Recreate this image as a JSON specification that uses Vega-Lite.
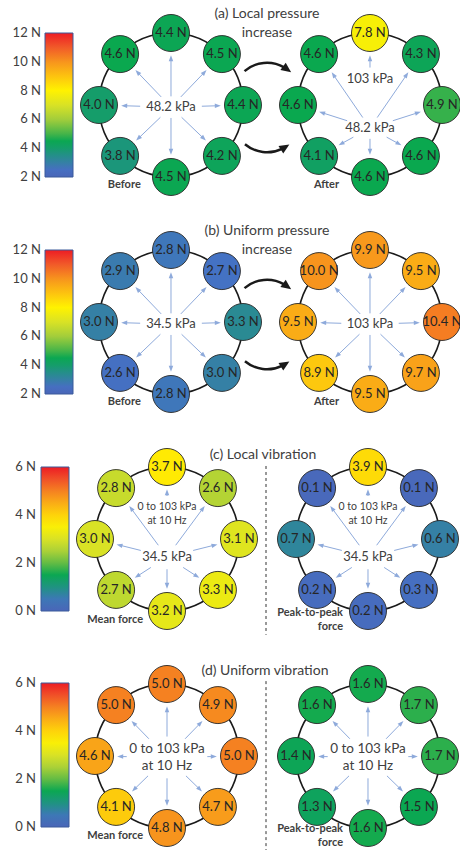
{
"$schema":"https://vega.github.io/schema/vega-lite/v6.json",
"background":"white","padding":0,
"config":{"view":{"stroke":null},"axis":{"disable":true},"font":"Lato"},
"datasets":{"sensors":[
{"panel":"a","side":"L","angle":90,"value":4.4},{"panel":"a","side":"L","angle":45,"value":4.5},{"panel":"a","side":"L","angle":0,"value":4.4},{"panel":"a","side":"L","angle":315,"value":4.2},{"panel":"a","side":"L","angle":270,"value":4.5},{"panel":"a","side":"L","angle":225,"value":3.8},{"panel":"a","side":"L","angle":180,"value":4.0},{"panel":"a","side":"L","angle":135,"value":4.6},
{"panel":"a","side":"R","angle":90,"value":7.8},{"panel":"a","side":"R","angle":45,"value":4.3},{"panel":"a","side":"R","angle":0,"value":4.9},{"panel":"a","side":"R","angle":315,"value":4.6},{"panel":"a","side":"R","angle":270,"value":4.6},{"panel":"a","side":"R","angle":225,"value":4.1},{"panel":"a","side":"R","angle":180,"value":4.6},{"panel":"a","side":"R","angle":135,"value":4.6},
{"panel":"b","side":"L","angle":90,"value":2.8},{"panel":"b","side":"L","angle":45,"value":2.7},{"panel":"b","side":"L","angle":0,"value":3.3},{"panel":"b","side":"L","angle":315,"value":3.0},{"panel":"b","side":"L","angle":270,"value":2.8},{"panel":"b","side":"L","angle":225,"value":2.6},{"panel":"b","side":"L","angle":180,"value":3.0},{"panel":"b","side":"L","angle":135,"value":2.9},
{"panel":"b","side":"R","angle":90,"value":9.9},{"panel":"b","side":"R","angle":45,"value":9.5},{"panel":"b","side":"R","angle":0,"value":10.4},{"panel":"b","side":"R","angle":315,"value":9.7},{"panel":"b","side":"R","angle":270,"value":9.5},{"panel":"b","side":"R","angle":225,"value":8.9},{"panel":"b","side":"R","angle":180,"value":9.5},{"panel":"b","side":"R","angle":135,"value":10.0},
{"panel":"c","side":"L","angle":90,"value":3.7},{"panel":"c","side":"L","angle":45,"value":2.6},{"panel":"c","side":"L","angle":0,"value":3.1},{"panel":"c","side":"L","angle":315,"value":3.3},{"panel":"c","side":"L","angle":270,"value":3.2},{"panel":"c","side":"L","angle":225,"value":2.7},{"panel":"c","side":"L","angle":180,"value":3.0},{"panel":"c","side":"L","angle":135,"value":2.8},
{"panel":"c","side":"R","angle":90,"value":3.9},{"panel":"c","side":"R","angle":45,"value":0.1},{"panel":"c","side":"R","angle":0,"value":0.6},{"panel":"c","side":"R","angle":315,"value":0.3},{"panel":"c","side":"R","angle":270,"value":0.2},{"panel":"c","side":"R","angle":225,"value":0.2},{"panel":"c","side":"R","angle":180,"value":0.7},{"panel":"c","side":"R","angle":135,"value":0.1},
{"panel":"d","side":"L","angle":90,"value":5.0},{"panel":"d","side":"L","angle":45,"value":4.9},{"panel":"d","side":"L","angle":0,"value":5.0},{"panel":"d","side":"L","angle":315,"value":4.7},{"panel":"d","side":"L","angle":270,"value":4.8},{"panel":"d","side":"L","angle":225,"value":4.1},{"panel":"d","side":"L","angle":180,"value":4.6},{"panel":"d","side":"L","angle":135,"value":5.0},
{"panel":"d","side":"R","angle":90,"value":1.6},{"panel":"d","side":"R","angle":45,"value":1.7},{"panel":"d","side":"R","angle":0,"value":1.7},{"panel":"d","side":"R","angle":315,"value":1.5},{"panel":"d","side":"R","angle":270,"value":1.6},{"panel":"d","side":"R","angle":225,"value":1.3},{"panel":"d","side":"R","angle":180,"value":1.4},{"panel":"d","side":"R","angle":135,"value":1.6}
]},
"columns":2,"spacing":0,"bounds":"flush",
"resolve":{"scale":{"x":"independent","y":"independent","fill":"independent"},"legend":{"fill":"independent"}},
"concat":[
{"width":271,"height":217,"layer":[
{"data":{"values":[{}]},"mark":{"type":"point","shape":"circle","size":20736,"filled":false,"stroke":"#1a1a1a","strokeWidth":1.6,"opacity":1},"encoding":{"x":{"datum":0,"type":"quantitative","scale":{"domain":[-2.375,1.3889],"nice":false,"zero":false}},"y":{"datum":0,"type":"quantitative","scale":{"domain":[-1.5556,1.4583],"nice":false,"zero":false}}}},
{"data":{"name":"sensors"},"transform":[
{"filter":"datum.panel=='a' && datum.side=='L'"},
{"calculate":"cos(datum.angle*PI/180)","as":"px"},{"calculate":"sin(datum.angle*PI/180)","as":"py"},
{"calculate":"-0.03","as":"oy"},{"calculate":"0.15","as":"bb"},
{"calculate":"sqrt(pow(datum.px,2)+pow(datum.py-datum.oy,2))","as":"len"},
{"calculate":"datum.px/datum.len","as":"ux"},{"calculate":"(datum.py-datum.oy)/datum.len","as":"uy"},
{"calculate":"1/sqrt(pow(datum.ux/0.43,2)+pow(datum.uy/datum.bb,2))","as":"s"},
{"calculate":"datum.ux*datum.s","as":"x1"},{"calculate":"datum.oy+datum.uy*datum.s","as":"y1"},
{"calculate":"datum.px-datum.ux*0.35","as":"hx"},{"calculate":"datum.py-datum.uy*0.35","as":"hy"},
{"calculate":"atan2(datum.ux,datum.uy)*180/PI","as":"hang"},
{"calculate":"format(datum.value,'.1f')+' N'","as":"label"}],
"layer":[
{"mark":{"type":"rule","color":"#8eaadb","strokeWidth":1},"encoding":{"x":{"field":"x1","type":"quantitative"},"y":{"field":"y1","type":"quantitative"},"x2":{"field":"hx"},"y2":{"field":"hy"}}},
{"mark":{"type":"point","shape":"M0,-1L0.75,1L-0.75,1Z","size":36,"filled":true,"color":"#8eaadb","opacity":1,"strokeWidth":0},"encoding":{"x":{"field":"hx","type":"quantitative"},"y":{"field":"hy","type":"quantitative"},"angle":{"field":"hang","type":"quantitative","scale":null}}},
{"mark":{"type":"point","shape":"circle","size":1369,"filled":true,"stroke":"#262626","strokeWidth":0.9,"opacity":1},"encoding":{"x":{"field":"px","type":"quantitative"},"y":{"field":"py","type":"quantitative"},"fill":{"field":"value","type":"quantitative","scale":{"domain":[2,2.7,3,3.3,3.8,4.2,4.6,5,6,7,8,9,10,11,12],"range":["#4a66b8","#4472c4","#3580a5","#2a8a93","#1b967a","#0ea45a","#0aa84f","#45b449","#a2cd3b","#d9e225","#fff200","#fdc30f","#f7941d","#f15a29","#ed1c24"],"interpolate":"rgb"},"legend":{"orient":"none","legendX":45,"legendY":33,"direction":"vertical","gradientLength":144,"gradientThickness":28,"labelExpr":"''","labelOpacity":0,"title":null,"gradientStrokeColor":"#3b5a9a","gradientStrokeWidth":1,"padding":0}}}},
{"mark":{"type":"text","fontSize":13,"color":"#262626","baseline":"middle"},"encoding":{"x":{"field":"px","type":"quantitative"},"y":{"field":"py","type":"quantitative"},"text":{"field":"label"}}}]},
{"data":{"values":[{}]},"mark":{"type":"text","text":["12 N","10 N","8 N","6 N","4 N","2 N"],"lineHeight":28.8,"fontSize":13,"color":"#404040","align":"right","baseline":"middle"},"encoding":{"x":{"datum":-1.806,"type":"quantitative"},"y":{"datum":1.0,"type":"quantitative"}}},
{"data":{"values":[{}]},"mark":{"type":"text","text":"48.2 kPa","fontSize":13,"color":"#404040","baseline":"middle"},"encoding":{"x":{"datum":0,"type":"quantitative"},"y":{"datum":-0.03,"type":"quantitative"}}},
{"data":{"values":[{}]},"mark":{"type":"text","text":"Before","fontSize":11,"fontWeight":"bold","color":"#404040","align":"right","baseline":"middle"},"encoding":{"x":{"datum":-0.42,"type":"quantitative"},"y":{"datum":-1.111,"type":"quantitative"}}},
{"data":{"values":[{}]},"mark":{"type":"text","text":["(a) Local pressure","increase"],"fontSize":14,"lineHeight":19,"color":"#404040","align":"center","baseline":"middle"},"encoding":{"x":{"datum":1.333,"type":"quantitative"},"y":{"datum":1.264,"type":"quantitative"}}},
{"data":{"values":[{}]},"mark":{"type":"arc","theta":-0.7156,"theta2":0.5236,"radius":35.5,"radius2":33,"color":"#1a1a1a"},"encoding":{"x":{"datum":1.333,"type":"quantitative"},"y":{"datum":0.111,"type":"quantitative"}}},
{"data":{"values":[{}]},"mark":{"type":"arc","theta":2.6878,"theta2":3.8397,"radius":35.5,"radius2":33,"color":"#1a1a1a"},"encoding":{"x":{"datum":1.333,"type":"quantitative"},"y":{"datum":-0.1806,"type":"quantitative"}}},
{"data":{"values":[{}]},"mark":{"type":"point","shape":"M0,-1L0.9,1L-0.9,1Z","size":100,"filled":true,"color":"#1a1a1a","opacity":1,"angle":126},"encoding":{"x":{"datum":1.6125,"type":"quantitative"},"y":{"datum":0.496,"type":"quantitative"}}},
{"data":{"values":[{}]},"mark":{"type":"point","shape":"M0,-1L0.9,1L-0.9,1Z","size":100,"filled":true,"color":"#1a1a1a","opacity":1,"angle":58},"encoding":{"x":{"datum":1.585,"type":"quantitative"},"y":{"datum":-0.584,"type":"quantitative"}}}
]},
{"width":199,"height":217,"layer":[
{"data":{"values":[{}]},"mark":{"type":"point","shape":"circle","size":20736,"filled":false,"stroke":"#1a1a1a","strokeWidth":1.6,"opacity":1},"encoding":{"x":{"datum":0,"type":"quantitative","scale":{"domain":[-1.375,1.3889],"nice":false,"zero":false}},"y":{"datum":0,"type":"quantitative","scale":{"domain":[-1.5556,1.4583],"nice":false,"zero":false}}}},
{"data":{"name":"sensors"},"transform":[
{"filter":"datum.panel=='a' && datum.side=='R'"},
{"calculate":"cos(datum.angle*PI/180)","as":"px"},{"calculate":"sin(datum.angle*PI/180)","as":"py"},
{"calculate":"datum.angle==90 ? 0.36 : -0.32","as":"oy"},{"calculate":"datum.angle==90 ? 0.16 : 0.15","as":"bb"},
{"calculate":"sqrt(pow(datum.px,2)+pow(datum.py-datum.oy,2))","as":"len"},
{"calculate":"datum.px/datum.len","as":"ux"},{"calculate":"(datum.py-datum.oy)/datum.len","as":"uy"},
{"calculate":"1/sqrt(pow(datum.ux/0.43,2)+pow(datum.uy/datum.bb,2))","as":"s"},
{"calculate":"datum.ux*datum.s","as":"x1"},{"calculate":"datum.oy+datum.uy*datum.s","as":"y1"},
{"calculate":"datum.px-datum.ux*0.35","as":"hx"},{"calculate":"datum.py-datum.uy*0.35","as":"hy"},
{"calculate":"atan2(datum.ux,datum.uy)*180/PI","as":"hang"},
{"calculate":"format(datum.value,'.1f')+' N'","as":"label"}],
"layer":[
{"mark":{"type":"rule","color":"#8eaadb","strokeWidth":1},"encoding":{"x":{"field":"x1","type":"quantitative"},"y":{"field":"y1","type":"quantitative"},"x2":{"field":"hx"},"y2":{"field":"hy"}}},
{"mark":{"type":"point","shape":"M0,-1L0.75,1L-0.75,1Z","size":36,"filled":true,"color":"#8eaadb","opacity":1,"strokeWidth":0},"encoding":{"x":{"field":"hx","type":"quantitative"},"y":{"field":"hy","type":"quantitative"},"angle":{"field":"hang","type":"quantitative","scale":null}}},
{"mark":{"type":"point","shape":"circle","size":1369,"filled":true,"stroke":"#262626","strokeWidth":0.9,"opacity":1},"encoding":{"x":{"field":"px","type":"quantitative"},"y":{"field":"py","type":"quantitative"},"fill":{"field":"value","type":"quantitative","scale":{"domain":[2,2.7,3,3.3,3.8,4.2,4.6,5,6,7,8,9,10,11,12],"range":["#4a66b8","#4472c4","#3580a5","#2a8a93","#1b967a","#0ea45a","#0aa84f","#45b449","#a2cd3b","#d9e225","#fff200","#fdc30f","#f7941d","#f15a29","#ed1c24"],"interpolate":"rgb"},"legend":null}}},
{"mark":{"type":"text","fontSize":13,"color":"#262626","baseline":"middle"},"encoding":{"x":{"field":"px","type":"quantitative"},"y":{"field":"py","type":"quantitative"},"text":{"field":"label"}}}]},
{"data":{"values":[{}]},"mark":{"type":"text","text":"103 kPa","fontSize":13,"color":"#404040","baseline":"middle"},"encoding":{"x":{"datum":0,"type":"quantitative"},"y":{"datum":0.36,"type":"quantitative"}}},
{"data":{"values":[{}]},"mark":{"type":"text","text":"48.2 kPa","fontSize":13,"color":"#404040","baseline":"middle"},"encoding":{"x":{"datum":0,"type":"quantitative"},"y":{"datum":-0.32,"type":"quantitative"}}},
{"data":{"values":[{}]},"mark":{"type":"text","text":"After","fontSize":11,"fontWeight":"bold","color":"#404040","align":"right","baseline":"middle"},"encoding":{"x":{"datum":-0.43,"type":"quantitative"},"y":{"datum":-1.111,"type":"quantitative"}}}
]},
{"width":271,"height":217,"layer":[
{"data":{"values":[{}]},"mark":{"type":"point","shape":"circle","size":20736,"filled":false,"stroke":"#1a1a1a","strokeWidth":1.6,"opacity":1},"encoding":{"x":{"datum":0,"type":"quantitative","scale":{"domain":[-2.375,1.3889],"nice":false,"zero":false}},"y":{"datum":0,"type":"quantitative","scale":{"domain":[-1.5556,1.4583],"nice":false,"zero":false}}}},
{"data":{"name":"sensors"},"transform":[
{"filter":"datum.panel=='b' && datum.side=='L'"},
{"calculate":"cos(datum.angle*PI/180)","as":"px"},{"calculate":"sin(datum.angle*PI/180)","as":"py"},
{"calculate":"-0.03","as":"oy"},{"calculate":"0.15","as":"bb"},
{"calculate":"sqrt(pow(datum.px,2)+pow(datum.py-datum.oy,2))","as":"len"},
{"calculate":"datum.px/datum.len","as":"ux"},{"calculate":"(datum.py-datum.oy)/datum.len","as":"uy"},
{"calculate":"1/sqrt(pow(datum.ux/0.43,2)+pow(datum.uy/datum.bb,2))","as":"s"},
{"calculate":"datum.ux*datum.s","as":"x1"},{"calculate":"datum.oy+datum.uy*datum.s","as":"y1"},
{"calculate":"datum.px-datum.ux*0.35","as":"hx"},{"calculate":"datum.py-datum.uy*0.35","as":"hy"},
{"calculate":"atan2(datum.ux,datum.uy)*180/PI","as":"hang"},
{"calculate":"format(datum.value,'.1f')+' N'","as":"label"}],
"layer":[
{"mark":{"type":"rule","color":"#8eaadb","strokeWidth":1},"encoding":{"x":{"field":"x1","type":"quantitative"},"y":{"field":"y1","type":"quantitative"},"x2":{"field":"hx"},"y2":{"field":"hy"}}},
{"mark":{"type":"point","shape":"M0,-1L0.75,1L-0.75,1Z","size":36,"filled":true,"color":"#8eaadb","opacity":1,"strokeWidth":0},"encoding":{"x":{"field":"hx","type":"quantitative"},"y":{"field":"hy","type":"quantitative"},"angle":{"field":"hang","type":"quantitative","scale":null}}},
{"mark":{"type":"point","shape":"circle","size":1369,"filled":true,"stroke":"#262626","strokeWidth":0.9,"opacity":1},"encoding":{"x":{"field":"px","type":"quantitative"},"y":{"field":"py","type":"quantitative"},"fill":{"field":"value","type":"quantitative","scale":{"domain":[2,2.7,3,3.3,3.8,4.2,4.6,5,6,7,8,9,10,11,12],"range":["#4a66b8","#4472c4","#3580a5","#2a8a93","#1b967a","#0ea45a","#0aa84f","#45b449","#a2cd3b","#d9e225","#fff200","#fdc30f","#f7941d","#f15a29","#ed1c24"],"interpolate":"rgb"},"legend":{"orient":"none","legendX":45,"legendY":33,"direction":"vertical","gradientLength":144,"gradientThickness":28,"labelExpr":"''","labelOpacity":0,"title":null,"gradientStrokeColor":"#3b5a9a","gradientStrokeWidth":1,"padding":0}}}},
{"mark":{"type":"text","fontSize":13,"color":"#262626","baseline":"middle"},"encoding":{"x":{"field":"px","type":"quantitative"},"y":{"field":"py","type":"quantitative"},"text":{"field":"label"}}}]},
{"data":{"values":[{}]},"mark":{"type":"text","text":["12 N","10 N","8 N","6 N","4 N","2 N"],"lineHeight":28.8,"fontSize":13,"color":"#404040","align":"right","baseline":"middle"},"encoding":{"x":{"datum":-1.806,"type":"quantitative"},"y":{"datum":1.0,"type":"quantitative"}}},
{"data":{"values":[{}]},"mark":{"type":"text","text":"34.5 kPa","fontSize":13,"color":"#404040","baseline":"middle"},"encoding":{"x":{"datum":0,"type":"quantitative"},"y":{"datum":-0.03,"type":"quantitative"}}},
{"data":{"values":[{}]},"mark":{"type":"text","text":"Before","fontSize":11,"fontWeight":"bold","color":"#404040","align":"right","baseline":"middle"},"encoding":{"x":{"datum":-0.42,"type":"quantitative"},"y":{"datum":-1.111,"type":"quantitative"}}},
{"data":{"values":[{}]},"mark":{"type":"text","text":["(b) Uniform pressure","increase"],"fontSize":14,"lineHeight":19,"color":"#404040","align":"center","baseline":"middle"},"encoding":{"x":{"datum":1.333,"type":"quantitative"},"y":{"datum":1.264,"type":"quantitative"}}},
{"data":{"values":[{}]},"mark":{"type":"arc","theta":-0.7156,"theta2":0.5236,"radius":35.5,"radius2":33,"color":"#1a1a1a"},"encoding":{"x":{"datum":1.333,"type":"quantitative"},"y":{"datum":0.111,"type":"quantitative"}}},
{"data":{"values":[{}]},"mark":{"type":"arc","theta":2.6878,"theta2":3.8397,"radius":35.5,"radius2":33,"color":"#1a1a1a"},"encoding":{"x":{"datum":1.333,"type":"quantitative"},"y":{"datum":-0.1806,"type":"quantitative"}}},
{"data":{"values":[{}]},"mark":{"type":"point","shape":"M0,-1L0.9,1L-0.9,1Z","size":100,"filled":true,"color":"#1a1a1a","opacity":1,"angle":126},"encoding":{"x":{"datum":1.6125,"type":"quantitative"},"y":{"datum":0.496,"type":"quantitative"}}},
{"data":{"values":[{}]},"mark":{"type":"point","shape":"M0,-1L0.9,1L-0.9,1Z","size":100,"filled":true,"color":"#1a1a1a","opacity":1,"angle":58},"encoding":{"x":{"datum":1.585,"type":"quantitative"},"y":{"datum":-0.584,"type":"quantitative"}}}
]},
{"width":199,"height":217,"layer":[
{"data":{"values":[{}]},"mark":{"type":"point","shape":"circle","size":20736,"filled":false,"stroke":"#1a1a1a","strokeWidth":1.6,"opacity":1},"encoding":{"x":{"datum":0,"type":"quantitative","scale":{"domain":[-1.375,1.3889],"nice":false,"zero":false}},"y":{"datum":0,"type":"quantitative","scale":{"domain":[-1.5556,1.4583],"nice":false,"zero":false}}}},
{"data":{"name":"sensors"},"transform":[
{"filter":"datum.panel=='b' && datum.side=='R'"},
{"calculate":"cos(datum.angle*PI/180)","as":"px"},{"calculate":"sin(datum.angle*PI/180)","as":"py"},
{"calculate":"-0.03","as":"oy"},{"calculate":"0.15","as":"bb"},
{"calculate":"sqrt(pow(datum.px,2)+pow(datum.py-datum.oy,2))","as":"len"},
{"calculate":"datum.px/datum.len","as":"ux"},{"calculate":"(datum.py-datum.oy)/datum.len","as":"uy"},
{"calculate":"1/sqrt(pow(datum.ux/0.4,2)+pow(datum.uy/datum.bb,2))","as":"s"},
{"calculate":"datum.ux*datum.s","as":"x1"},{"calculate":"datum.oy+datum.uy*datum.s","as":"y1"},
{"calculate":"datum.px-datum.ux*0.35","as":"hx"},{"calculate":"datum.py-datum.uy*0.35","as":"hy"},
{"calculate":"atan2(datum.ux,datum.uy)*180/PI","as":"hang"},
{"calculate":"format(datum.value,'.1f')+' N'","as":"label"}],
"layer":[
{"mark":{"type":"rule","color":"#8eaadb","strokeWidth":1},"encoding":{"x":{"field":"x1","type":"quantitative"},"y":{"field":"y1","type":"quantitative"},"x2":{"field":"hx"},"y2":{"field":"hy"}}},
{"mark":{"type":"point","shape":"M0,-1L0.75,1L-0.75,1Z","size":36,"filled":true,"color":"#8eaadb","opacity":1,"strokeWidth":0},"encoding":{"x":{"field":"hx","type":"quantitative"},"y":{"field":"hy","type":"quantitative"},"angle":{"field":"hang","type":"quantitative","scale":null}}},
{"mark":{"type":"point","shape":"circle","size":1369,"filled":true,"stroke":"#262626","strokeWidth":0.9,"opacity":1},"encoding":{"x":{"field":"px","type":"quantitative"},"y":{"field":"py","type":"quantitative"},"fill":{"field":"value","type":"quantitative","scale":{"domain":[2,2.7,3,3.3,3.8,4.2,4.6,5,6,7,8,9,10,11,12],"range":["#4a66b8","#4472c4","#3580a5","#2a8a93","#1b967a","#0ea45a","#0aa84f","#45b449","#a2cd3b","#d9e225","#fff200","#fdc30f","#f7941d","#f15a29","#ed1c24"],"interpolate":"rgb"},"legend":null}}},
{"mark":{"type":"text","fontSize":13,"color":"#262626","baseline":"middle"},"encoding":{"x":{"field":"px","type":"quantitative"},"y":{"field":"py","type":"quantitative"},"text":{"field":"label"}}}]},
{"data":{"values":[{}]},"mark":{"type":"text","text":"103 kPa","fontSize":13,"color":"#404040","baseline":"middle"},"encoding":{"x":{"datum":0,"type":"quantitative"},"y":{"datum":-0.03,"type":"quantitative"}}},
{"data":{"values":[{}]},"mark":{"type":"text","text":"After","fontSize":11,"fontWeight":"bold","color":"#404040","align":"right","baseline":"middle"},"encoding":{"x":{"datum":-0.43,"type":"quantitative"},"y":{"datum":-1.111,"type":"quantitative"}}}
]},
{"width":271,"height":217,"layer":[
{"data":{"values":[{}]},"mark":{"type":"point","shape":"circle","size":20736,"filled":false,"stroke":"#1a1a1a","strokeWidth":1.6,"opacity":1},"encoding":{"x":{"datum":0,"type":"quantitative","scale":{"domain":[-2.3194,1.4444],"nice":false,"zero":false}},"y":{"datum":0,"type":"quantitative","scale":{"domain":[-1.5556,1.4583],"nice":false,"zero":false}}}},
{"data":{"name":"sensors"},"transform":[
{"filter":"datum.panel=='c' && datum.side=='L'"},
{"calculate":"cos(datum.angle*PI/180)","as":"px"},{"calculate":"sin(datum.angle*PI/180)","as":"py"},
{"calculate":"datum.angle==90 ? 0.347 : -0.25","as":"oy"},{"calculate":"datum.angle==90 ? 0.25 : 0.17","as":"bb"},
{"calculate":"sqrt(pow(datum.px,2)+pow(datum.py-datum.oy,2))","as":"len"},
{"calculate":"datum.px/datum.len","as":"ux"},{"calculate":"(datum.py-datum.oy)/datum.len","as":"uy"},
{"calculate":"1/sqrt(pow(datum.ux/0.43,2)+pow(datum.uy/datum.bb,2))","as":"s"},
{"calculate":"datum.ux*datum.s","as":"x1"},{"calculate":"datum.oy+datum.uy*datum.s","as":"y1"},
{"calculate":"datum.px-datum.ux*0.35","as":"hx"},{"calculate":"datum.py-datum.uy*0.35","as":"hy"},
{"calculate":"atan2(datum.ux,datum.uy)*180/PI","as":"hang"},
{"calculate":"format(datum.value,'.1f')+' N'","as":"label"}],
"layer":[
{"mark":{"type":"rule","color":"#8eaadb","strokeWidth":1},"encoding":{"x":{"field":"x1","type":"quantitative"},"y":{"field":"y1","type":"quantitative"},"x2":{"field":"hx"},"y2":{"field":"hy"}}},
{"mark":{"type":"point","shape":"M0,-1L0.75,1L-0.75,1Z","size":36,"filled":true,"color":"#8eaadb","opacity":1,"strokeWidth":0},"encoding":{"x":{"field":"hx","type":"quantitative"},"y":{"field":"hy","type":"quantitative"},"angle":{"field":"hang","type":"quantitative","scale":null}}},
{"mark":{"type":"point","shape":"circle","size":1369,"filled":true,"stroke":"#262626","strokeWidth":0.9,"opacity":1},"encoding":{"x":{"field":"px","type":"quantitative"},"y":{"field":"py","type":"quantitative"},"fill":{"field":"value","type":"quantitative","scale":{"domain":[0,0.42,0.6,0.78,1.08,1.32,1.56,1.8,2.4,3,3.6,4.2,4.8,5.4,6],"range":["#4a66b8","#4472c4","#3580a5","#2a8a93","#1b967a","#0ea45a","#0aa84f","#45b449","#a2cd3b","#d9e225","#fff200","#fdc30f","#f7941d","#f15a29","#ed1c24"],"interpolate":"rgb"},"legend":{"orient":"none","legendX":41,"legendY":33,"direction":"vertical","gradientLength":144,"gradientThickness":28,"labelExpr":"''","labelOpacity":0,"title":null,"gradientStrokeColor":"#3b5a9a","gradientStrokeWidth":1,"padding":0}}}},
{"mark":{"type":"text","fontSize":13,"color":"#262626","baseline":"middle"},"encoding":{"x":{"field":"px","type":"quantitative"},"y":{"field":"py","type":"quantitative"},"text":{"field":"label"}}}]},
{"data":{"values":[{}]},"mark":{"type":"text","text":["6 N","4 N","2 N","0 N"],"lineHeight":48,"fontSize":13,"color":"#404040","align":"right","baseline":"middle"},"encoding":{"x":{"datum":-1.819,"type":"quantitative"},"y":{"datum":1.0,"type":"quantitative"}}},
{"data":{"values":[{}]},"mark":{"type":"text","text":["0 to 103 kPa","at 10 Hz"],"fontSize":10.5,"lineHeight":14,"color":"#404040","baseline":"middle"},"encoding":{"x":{"datum":0,"type":"quantitative"},"y":{"datum":0.444,"type":"quantitative"}}},
{"data":{"values":[{}]},"mark":{"type":"text","text":"34.5 kPa","fontSize":13,"color":"#404040","baseline":"middle"},"encoding":{"x":{"datum":0,"type":"quantitative"},"y":{"datum":-0.25,"type":"quantitative"}}},
{"data":{"values":[{}]},"mark":{"type":"text","text":"Mean force","fontSize":11,"fontWeight":"bold","color":"#404040","align":"right","baseline":"middle"},"encoding":{"x":{"datum":-0.333,"type":"quantitative"},"y":{"datum":-1.125,"type":"quantitative"}}},
{"data":{"values":[{}]},"mark":{"type":"text","text":"(c) Local vibration","fontSize":14,"color":"#404040","align":"center","baseline":"middle"},"encoding":{"x":{"datum":1.333,"type":"quantitative"},"y":{"datum":1.167,"type":"quantitative"}}},
{"data":{"values":[{}]},"mark":{"type":"rule","color":"#333333","strokeWidth":1,"strokeDash":[3,3]},"encoding":{"x":{"datum":1.375,"type":"quantitative"},"y":{"datum":1.014,"type":"quantitative"},"y2":{"datum":-1.33}}}
]},
{"width":199,"height":217,"layer":[
{"data":{"values":[{}]},"mark":{"type":"point","shape":"circle","size":20736,"filled":false,"stroke":"#1a1a1a","strokeWidth":1.6,"opacity":1},"encoding":{"x":{"datum":0,"type":"quantitative","scale":{"domain":[-1.347,1.4167],"nice":false,"zero":false}},"y":{"datum":0,"type":"quantitative","scale":{"domain":[-1.5556,1.4583],"nice":false,"zero":false}}}},
{"data":{"name":"sensors"},"transform":[
{"filter":"datum.panel=='c' && datum.side=='R'"},
{"calculate":"cos(datum.angle*PI/180)","as":"px"},{"calculate":"sin(datum.angle*PI/180)","as":"py"},
{"calculate":"datum.angle==90 ? 0.347 : -0.25","as":"oy"},{"calculate":"datum.angle==90 ? 0.25 : 0.17","as":"bb"},
{"calculate":"sqrt(pow(datum.px,2)+pow(datum.py-datum.oy,2))","as":"len"},
{"calculate":"datum.px/datum.len","as":"ux"},{"calculate":"(datum.py-datum.oy)/datum.len","as":"uy"},
{"calculate":"1/sqrt(pow(datum.ux/0.43,2)+pow(datum.uy/datum.bb,2))","as":"s"},
{"calculate":"datum.ux*datum.s","as":"x1"},{"calculate":"datum.oy+datum.uy*datum.s","as":"y1"},
{"calculate":"datum.px-datum.ux*0.35","as":"hx"},{"calculate":"datum.py-datum.uy*0.35","as":"hy"},
{"calculate":"atan2(datum.ux,datum.uy)*180/PI","as":"hang"},
{"calculate":"format(datum.value,'.1f')+' N'","as":"label"}],
"layer":[
{"mark":{"type":"rule","color":"#8eaadb","strokeWidth":1},"encoding":{"x":{"field":"x1","type":"quantitative"},"y":{"field":"y1","type":"quantitative"},"x2":{"field":"hx"},"y2":{"field":"hy"}}},
{"mark":{"type":"point","shape":"M0,-1L0.75,1L-0.75,1Z","size":36,"filled":true,"color":"#8eaadb","opacity":1,"strokeWidth":0},"encoding":{"x":{"field":"hx","type":"quantitative"},"y":{"field":"hy","type":"quantitative"},"angle":{"field":"hang","type":"quantitative","scale":null}}},
{"mark":{"type":"point","shape":"circle","size":1369,"filled":true,"stroke":"#262626","strokeWidth":0.9,"opacity":1},"encoding":{"x":{"field":"px","type":"quantitative"},"y":{"field":"py","type":"quantitative"},"fill":{"field":"value","type":"quantitative","scale":{"domain":[0,0.42,0.6,0.78,1.08,1.32,1.56,1.8,2.4,3,3.6,4.2,4.8,5.4,6],"range":["#4a66b8","#4472c4","#3580a5","#2a8a93","#1b967a","#0ea45a","#0aa84f","#45b449","#a2cd3b","#d9e225","#fff200","#fdc30f","#f7941d","#f15a29","#ed1c24"],"interpolate":"rgb"},"legend":null}}},
{"mark":{"type":"text","fontSize":13,"color":"#262626","baseline":"middle"},"encoding":{"x":{"field":"px","type":"quantitative"},"y":{"field":"py","type":"quantitative"},"text":{"field":"label"}}}]},
{"data":{"values":[{}]},"mark":{"type":"text","text":["0 to 103 kPa","at 10 Hz"],"fontSize":10.5,"lineHeight":14,"color":"#404040","baseline":"middle"},"encoding":{"x":{"datum":0,"type":"quantitative"},"y":{"datum":0.444,"type":"quantitative"}}},
{"data":{"values":[{}]},"mark":{"type":"text","text":"34.5 kPa","fontSize":13,"color":"#404040","baseline":"middle"},"encoding":{"x":{"datum":0,"type":"quantitative"},"y":{"datum":-0.25,"type":"quantitative"}}},
{"data":{"values":[{}]},"mark":{"type":"text","text":["Peak-to-peak","force"],"fontSize":11,"lineHeight":14,"fontWeight":"bold","color":"#404040","align":"right","baseline":"middle"},"encoding":{"x":{"datum":-0.347,"type":"quantitative"},"y":{"datum":-1.028,"type":"quantitative"}}}
]},
{"width":271,"height":217,"layer":[
{"data":{"values":[{}]},"mark":{"type":"point","shape":"circle","size":20736,"filled":false,"stroke":"#1a1a1a","strokeWidth":1.6,"opacity":1},"encoding":{"x":{"datum":0,"type":"quantitative","scale":{"domain":[-2.3194,1.4444],"nice":false,"zero":false}},"y":{"datum":0,"type":"quantitative","scale":{"domain":[-1.5556,1.4583],"nice":false,"zero":false}}}},
{"data":{"name":"sensors"},"transform":[
{"filter":"datum.panel=='d' && datum.side=='L'"},
{"calculate":"cos(datum.angle*PI/180)","as":"px"},{"calculate":"sin(datum.angle*PI/180)","as":"py"},
{"calculate":"-0.02","as":"oy"},{"calculate":"0.29","as":"bb"},
{"calculate":"sqrt(pow(datum.px,2)+pow(datum.py-datum.oy,2))","as":"len"},
{"calculate":"datum.px/datum.len","as":"ux"},{"calculate":"(datum.py-datum.oy)/datum.len","as":"uy"},
{"calculate":"1/sqrt(pow(datum.ux/0.56,2)+pow(datum.uy/datum.bb,2))","as":"s"},
{"calculate":"datum.ux*datum.s","as":"x1"},{"calculate":"datum.oy+datum.uy*datum.s","as":"y1"},
{"calculate":"datum.px-datum.ux*0.35","as":"hx"},{"calculate":"datum.py-datum.uy*0.35","as":"hy"},
{"calculate":"atan2(datum.ux,datum.uy)*180/PI","as":"hang"},
{"calculate":"format(datum.value,'.1f')+' N'","as":"label"}],
"layer":[
{"mark":{"type":"rule","color":"#8eaadb","strokeWidth":1},"encoding":{"x":{"field":"x1","type":"quantitative"},"y":{"field":"y1","type":"quantitative"},"x2":{"field":"hx"},"y2":{"field":"hy"}}},
{"mark":{"type":"point","shape":"M0,-1L0.75,1L-0.75,1Z","size":36,"filled":true,"color":"#8eaadb","opacity":1,"strokeWidth":0},"encoding":{"x":{"field":"hx","type":"quantitative"},"y":{"field":"hy","type":"quantitative"},"angle":{"field":"hang","type":"quantitative","scale":null}}},
{"mark":{"type":"point","shape":"circle","size":1369,"filled":true,"stroke":"#262626","strokeWidth":0.9,"opacity":1},"encoding":{"x":{"field":"px","type":"quantitative"},"y":{"field":"py","type":"quantitative"},"fill":{"field":"value","type":"quantitative","scale":{"domain":[0,0.42,0.6,0.78,1.08,1.32,1.56,1.8,2.4,3,3.6,4.2,4.8,5.4,6],"range":["#4a66b8","#4472c4","#3580a5","#2a8a93","#1b967a","#0ea45a","#0aa84f","#45b449","#a2cd3b","#d9e225","#fff200","#fdc30f","#f7941d","#f15a29","#ed1c24"],"interpolate":"rgb"},"legend":{"orient":"none","legendX":41,"legendY":32,"direction":"vertical","gradientLength":144,"gradientThickness":28,"labelExpr":"''","labelOpacity":0,"title":null,"gradientStrokeColor":"#3b5a9a","gradientStrokeWidth":1,"padding":0}}}},
{"mark":{"type":"text","fontSize":13,"color":"#262626","baseline":"middle"},"encoding":{"x":{"field":"px","type":"quantitative"},"y":{"field":"py","type":"quantitative"},"text":{"field":"label"}}}]},
{"data":{"values":[{}]},"mark":{"type":"text","text":["6 N","4 N","2 N","0 N"],"lineHeight":48,"fontSize":13,"color":"#404040","align":"right","baseline":"middle"},"encoding":{"x":{"datum":-1.819,"type":"quantitative"},"y":{"datum":1.014,"type":"quantitative"}}},
{"data":{"values":[{}]},"mark":{"type":"text","text":["0 to 103 kPa","at 10 Hz"],"fontSize":13.5,"lineHeight":17,"color":"#404040","baseline":"middle"},"encoding":{"x":{"datum":0,"type":"quantitative"},"y":{"datum":0.097,"type":"quantitative"}}},
{"data":{"values":[{}]},"mark":{"type":"text","text":"Mean force","fontSize":11,"fontWeight":"bold","color":"#404040","align":"right","baseline":"middle"},"encoding":{"x":{"datum":-0.333,"type":"quantitative"},"y":{"datum":-1.11,"type":"quantitative"}}},
{"data":{"values":[{}]},"mark":{"type":"text","text":"(d) Uniform vibration","fontSize":14,"color":"#404040","align":"center","baseline":"middle"},"encoding":{"x":{"datum":1.361,"type":"quantitative"},"y":{"datum":1.181,"type":"quantitative"}}},
{"data":{"values":[{}]},"mark":{"type":"rule","color":"#333333","strokeWidth":1,"strokeDash":[3,3]},"encoding":{"x":{"datum":1.375,"type":"quantitative"},"y":{"datum":1.04,"type":"quantitative"},"y2":{"datum":-1.31}}}
]},
{"width":199,"height":217,"layer":[
{"data":{"values":[{}]},"mark":{"type":"point","shape":"circle","size":20736,"filled":false,"stroke":"#1a1a1a","strokeWidth":1.6,"opacity":1},"encoding":{"x":{"datum":0,"type":"quantitative","scale":{"domain":[-1.347,1.4167],"nice":false,"zero":false}},"y":{"datum":0,"type":"quantitative","scale":{"domain":[-1.5556,1.4583],"nice":false,"zero":false}}}},
{"data":{"name":"sensors"},"transform":[
{"filter":"datum.panel=='d' && datum.side=='R'"},
{"calculate":"cos(datum.angle*PI/180)","as":"px"},{"calculate":"sin(datum.angle*PI/180)","as":"py"},
{"calculate":"-0.02","as":"oy"},{"calculate":"0.29","as":"bb"},
{"calculate":"sqrt(pow(datum.px,2)+pow(datum.py-datum.oy,2))","as":"len"},
{"calculate":"datum.px/datum.len","as":"ux"},{"calculate":"(datum.py-datum.oy)/datum.len","as":"uy"},
{"calculate":"1/sqrt(pow(datum.ux/0.56,2)+pow(datum.uy/datum.bb,2))","as":"s"},
{"calculate":"datum.ux*datum.s","as":"x1"},{"calculate":"datum.oy+datum.uy*datum.s","as":"y1"},
{"calculate":"datum.px-datum.ux*0.35","as":"hx"},{"calculate":"datum.py-datum.uy*0.35","as":"hy"},
{"calculate":"atan2(datum.ux,datum.uy)*180/PI","as":"hang"},
{"calculate":"format(datum.value,'.1f')+' N'","as":"label"}],
"layer":[
{"mark":{"type":"rule","color":"#8eaadb","strokeWidth":1},"encoding":{"x":{"field":"x1","type":"quantitative"},"y":{"field":"y1","type":"quantitative"},"x2":{"field":"hx"},"y2":{"field":"hy"}}},
{"mark":{"type":"point","shape":"M0,-1L0.75,1L-0.75,1Z","size":36,"filled":true,"color":"#8eaadb","opacity":1,"strokeWidth":0},"encoding":{"x":{"field":"hx","type":"quantitative"},"y":{"field":"hy","type":"quantitative"},"angle":{"field":"hang","type":"quantitative","scale":null}}},
{"mark":{"type":"point","shape":"circle","size":1369,"filled":true,"stroke":"#262626","strokeWidth":0.9,"opacity":1},"encoding":{"x":{"field":"px","type":"quantitative"},"y":{"field":"py","type":"quantitative"},"fill":{"field":"value","type":"quantitative","scale":{"domain":[0,0.42,0.6,0.78,1.08,1.32,1.56,1.8,2.4,3,3.6,4.2,4.8,5.4,6],"range":["#4a66b8","#4472c4","#3580a5","#2a8a93","#1b967a","#0ea45a","#0aa84f","#45b449","#a2cd3b","#d9e225","#fff200","#fdc30f","#f7941d","#f15a29","#ed1c24"],"interpolate":"rgb"},"legend":null}}},
{"mark":{"type":"text","fontSize":13,"color":"#262626","baseline":"middle"},"encoding":{"x":{"field":"px","type":"quantitative"},"y":{"field":"py","type":"quantitative"},"text":{"field":"label"}}}]},
{"data":{"values":[{}]},"mark":{"type":"text","text":["0 to 103 kPa","at 10 Hz"],"fontSize":13.5,"lineHeight":17,"color":"#404040","baseline":"middle"},"encoding":{"x":{"datum":0,"type":"quantitative"},"y":{"datum":0.097,"type":"quantitative"}}},
{"data":{"values":[{}]},"mark":{"type":"text","text":["Peak-to-peak","force"],"fontSize":11,"lineHeight":14,"fontWeight":"bold","color":"#404040","align":"right","baseline":"middle"},"encoding":{"x":{"datum":-0.347,"type":"quantitative"},"y":{"datum":-1.014,"type":"quantitative"}}}
]}
]
}
